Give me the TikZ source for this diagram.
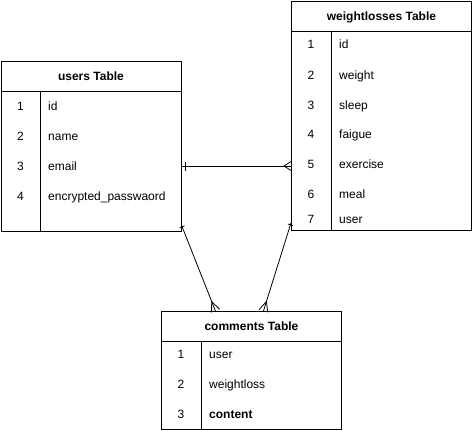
\documentclass[tikz,border=0pt]{standalone}
\usepackage{fontspec}
\setmainfont{Liberation Sans}
\usetikzlibrary{arrows.meta}

% crow's foot (many) and bar (one) ends
\pgfdeclarearrow{
  name = crowfoot,
  parameters = {\the\pgfarrowlength,\the\pgfarrowwidth},
  setup code = {
    \pgfarrowssettipend{0pt}
    \pgfarrowssetlineend{0pt}
    \pgfarrowssetbackend{-\pgfarrowlength}
    \pgfarrowssetvisualbackend{-\pgfarrowlength}
    \pgfarrowssavethe\pgfarrowlength
    \pgfarrowssavethe\pgfarrowwidth
  },
  drawing code = {
    \pgfsetdash{}{0pt}
    \pgfpathmoveto{\pgfqpoint{0pt}{0.5\pgfarrowwidth}}
    \pgfpathlineto{\pgfqpoint{-\pgfarrowlength}{0pt}}
    \pgfpathlineto{\pgfqpoint{0pt}{-0.5\pgfarrowwidth}}
    \pgfusepathqstroke
  },
  defaults = {length = 8pt, width = 9pt}
}
\pgfdeclarearrow{
  name = onebar,
  parameters = {\the\pgfarrowlength,\the\pgfarrowwidth},
  setup code = {
    \pgfarrowssettipend{0pt}
    \pgfarrowssetlineend{0pt}
    \pgfarrowssetbackend{-\pgfarrowlength}
    \pgfarrowssavethe\pgfarrowlength
    \pgfarrowssavethe\pgfarrowwidth
  },
  drawing code = {
    \pgfsetdash{}{0pt}
    \pgfpathmoveto{\pgfqpoint{-\pgfarrowlength}{0.5\pgfarrowwidth}}
    \pgfpathlineto{\pgfqpoint{-\pgfarrowlength}{-0.5\pgfarrowwidth}}
    \pgfusepathqstroke
  },
  defaults = {length = 4pt, width = 9pt}
}

\begin{document}
\begin{tikzpicture}[
  x=1pt, y=-1pt,
  font=\fontsize{12}{14}\selectfont,
  tbl/.style={
    draw=black,
    line width=0.9pt,
    minimum width=180pt,
    inner sep=0pt,
    anchor=north west
  },
  head/.style={
    tbl,
    minimum height=30pt,
    text height=8.6pt,
    text depth=0pt,
    font=\fontsize{12}{14}\selectfont\bfseries
  },
  num/.style={inner sep=0pt, text height=8.6pt, text depth=0pt},
  field/.style={num, anchor=west},
  divider/.style={draw=black, line width=0.9pt},
  rel/.style={draw=black, line width=0.8pt}
]
  \useasboundingbox (0,0) rectangle (472,431);

  % users
  \node[tbl, minimum height=170pt] (users) at (0.5,61) {};
  \node[head] (uhead) at (0.5,61) {users Table};
  \draw[divider] ([xshift=40pt]uhead.south west) -- ([xshift=40pt]users.south west);
  \node[num] (un1) at (20.5,106) {1};
  \node[field] (uid) at (48,106) {id};
  \node[num] (un2) at (20.5,136) {2};
  \node[field] (uname) at (48,136) {name};
  \node[num] (un3) at (20.5,166) {3};
  \node[field] (uemail) at (48,166) {email};
  \node[num] (un4) at (20.5,196) {4};
  \node[field] (upass) at (48,196) {encrypted\_passwaord};

  % weightlosses
  \node[tbl, minimum height=229pt] (wl) at (291,1) {};
  \node[head] (whead) at (291,1) {weightlosses Table};
  \draw[divider] ([xshift=40.7pt]whead.south west) -- ([xshift=40.7pt]wl.south west);
  \node[num] (wn1) at (311,44) {1};
  \node[field] (wid) at (339,44) {id};
  \node[num] (wn2) at (311,75) {2};
  \node[field] (wweight) at (339,75) {weight};
  \node[num] (wn3) at (311,105) {3};
  \node[field] (wsleep) at (339,105) {sleep};
  \node[num] (wn4) at (311,134) {4};
  \node[field] (wfaigue) at (339,134) {faigue};
  \node[num] (wn5) at (311,164) {5};
  \node[field] (wexer) at (339,164) {exercise};
  \node[num] (wn6) at (311,194) {6};
  \node[field] (wmeal) at (339,194) {meal};
  \node[num] (wn7) at (311,219) {7};
  \node[field] (wuser) at (339,219) {user};

  % comments
  \node[tbl, minimum height=118pt] (cmt) at (161,311) {};
  \node[head] (chead) at (161,311) {comments Table};
  \draw[divider] ([xshift=40.7pt]chead.south west) -- ([xshift=40.7pt]cmt.south west);
  \node[num] (cn1) at (181,354) {1};
  \node[field] (cuser) at (209,354) {user};
  \node[num] (cn2) at (181,384) {2};
  \node[field] (cweight) at (209,384) {weightloss};
  \node[num] (cn3) at (181,414) {3};
  \node[field, font=\fontsize{12}{14}\selectfont\bfseries] (ccontent) at (209,414) {content};

  \draw[rel, {onebar}-{crowfoot[length=7pt]}] (uemail -| users.east) -- (uemail -| wl.west);
  \draw[rel, {onebar[length=2pt,width=5pt]}-{crowfoot[length=10pt]}] ([yshift=7pt]users.south east) -- ([xshift=-36pt]cmt.north);
  \draw[rel, {onebar[length=2pt,width=5pt]}-{crowfoot[length=10pt]}] ([yshift=8pt]wl.south west) -- ([xshift=12pt]cmt.north);
\end{tikzpicture}
\end{document}
